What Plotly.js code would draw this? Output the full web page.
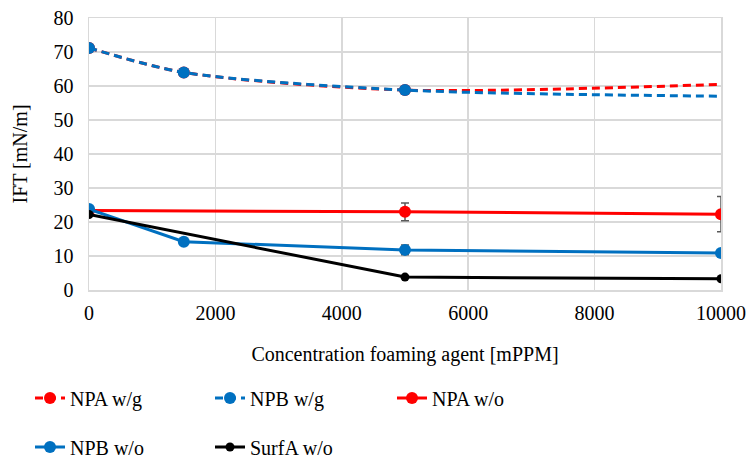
<!DOCTYPE html>
<html><head><meta charset="utf-8">
<script src="https://cdn.plot.ly/plotly-3.0.1.min.js"></script>
<style>html,body{margin:0;padding:0;background:#fff}#chart{width:755px;height:467px}</style>
</head><body><div id="chart"></div>
<script>
const xWG = [0, 1500, 5000, 10000];
const npaWG = [71.2, 64.0, 58.8, 60.5];
const npbWG = [71.2, 64.0, 58.8, 57.0];
const xNPAwo = [0, 5000, 10000];
const npaWO = [23.4, 23.0, 22.3];
const npaWOerr = [0, 2.6, 5.2];
const xNPBwo = [0, 1500, 5000, 10000];
const npbWO = [23.8, 14.2, 11.8, 10.9];
const npbWOerr = [0, 0, 1.4, 0];
const xSurf = [0, 5000, 10000];
const surfWO = [22.2, 3.8, 3.3];

const RED = '#FF0000', BLUE = '#0070C0', BLACK = '#000000', NONE = 'rgba(0,0,0,0)';
const FONT = 'Liberation Serif';

const traces = [
  {x: xWG, y: npaWG, name: 'NPA w/g', mode: 'lines+markers', line: {color: RED, width: 3, dash: '8px,5px', shape: 'spline', smoothing: 0.8},
   marker: {color: [RED, RED, RED, NONE], size: 12}, legend: 'legend'},
  {x: xWG, y: npbWG, name: 'NPB w/g', mode: 'lines+markers', line: {color: BLUE, width: 3, dash: '8px,5px', shape: 'spline', smoothing: 0.8},
   marker: {color: [BLUE, BLUE, BLUE, NONE], size: 12}, legend: 'legend2'},
  {x: xNPAwo, y: npaWO, name: 'NPA w/o', mode: 'lines+markers', line: {color: RED, width: 3},
   marker: {color: RED, size: 12}, error_y: {type: 'data', array: npaWOerr, color: '#595959', thickness: 1.5, width: 4}, legend: 'legend3'},
  {x: xNPBwo, y: npbWO, name: 'NPB w/o', mode: 'lines+markers', line: {color: BLUE, width: 3},
   marker: {color: BLUE, size: 12}, error_y: {type: 'data', array: npbWOerr, color: '#595959', thickness: 1.5, width: 4}, legend: 'legend4'},
  {x: xSurf, y: surfWO, name: 'SurfA w/o', mode: 'lines+markers', line: {color: BLACK, width: 3},
   marker: {color: BLACK, size: 9}, legend: 'legend5'}
];

function leg(xpx, ypx) {
  return {orientation: 'h', xref: 'container', yref: 'container', xanchor: 'left', yanchor: 'middle',
    x: xpx / 755, y: 1 - ypx / 467,
    font: {family: FONT, size: 20, color: '#000'}, bgcolor: 'rgba(0,0,0,0)', borderwidth: 0};
}

const layout = {
  width: 755, height: 467,
  margin: {l: 89, r: 34, t: 18, b: 177},
  paper_bgcolor: '#fff', plot_bgcolor: '#fff',
  font: {family: FONT, size: 20, color: '#000'},
  showlegend: true,
  xaxis: {range: [0, 10000], dtick: 2000, tick0: 0, tickformat: 'd', showgrid: true, gridcolor: '#d9d9d9', gridwidth: 1.5,
    zeroline: false, showline: true, linecolor: '#d9d9d9', linewidth: 1.5, mirror: true, ticks: '', ticklabelstandoff: 4,
    tickfont: {family: FONT, size: 20, color: '#000'},
    title: {text: 'Concentration foaming agent [mPPM]', font: {family: FONT, size: 20, color: '#000'}, standoff: 24}},
  yaxis: {range: [0, 80], dtick: 10, tick0: 0, tickformat: 'd', showgrid: true, gridcolor: '#d9d9d9', gridwidth: 1.5,
    zeroline: false, showline: true, linecolor: '#d9d9d9', linewidth: 1.5, mirror: true, ticks: '', ticklabelstandoff: 10,
    tickfont: {family: FONT, size: 20, color: '#000'},
    title: {text: 'IFT [mN/m]', font: {family: FONT, size: 20, color: '#000'}, standoff: 20}},
  legend: leg(30, 398),
  legend2: leg(210, 398),
  legend3: leg(392, 398),
  legend4: leg(30, 447),
  legend5: leg(210, 447)
};

Plotly.newPlot('chart', traces, layout, {displayModeBar: false, staticPlot: true});
</script></body></html>
